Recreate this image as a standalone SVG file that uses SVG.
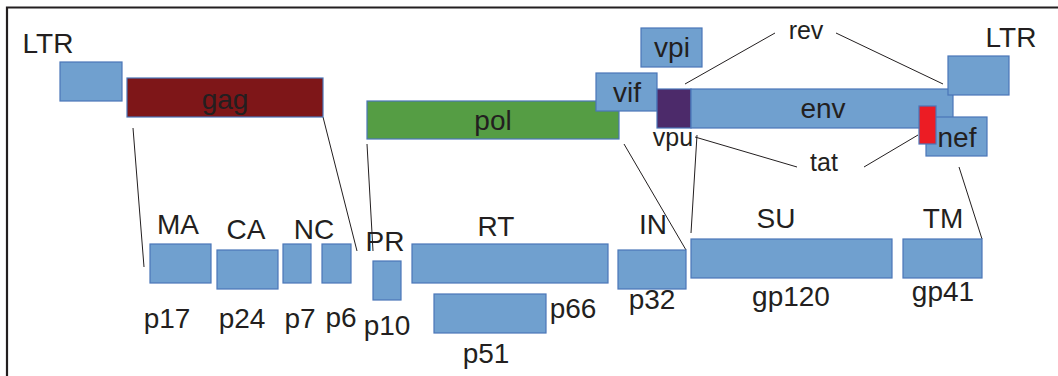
<svg xmlns="http://www.w3.org/2000/svg" width="1058" height="376" viewBox="0 0 1058 376">
<style>
text{font-family:"Liberation Sans",Arial,sans-serif;font-size:28px;fill:#231f20;text-anchor:middle}
.s{font-size:25px}
.b{fill:#70a0cf;stroke:#4a76b8;stroke-width:1.2}
.gag{fill:#7e1618;stroke:#4a76b8;stroke-width:1.2}
.pol{fill:#559d44;stroke:#4a76b8;stroke-width:1.2}
.vpu{fill:#4c2a6a;stroke:#4a76b8;stroke-width:1.2}
.tat{fill:#ec1c24;stroke:#4a76b8;stroke-width:1.2}
.c line{stroke:#231f20;stroke-width:1}
</style>
<rect width="1058" height="376" fill="#fff"/>
<path d="M7,376 V7.5 H1058" fill="none" stroke="#231f20" stroke-width="2.2"/>
<g class="c" id="connectors">
<line x1="133" y1="128" x2="144" y2="267"/>
<line x1="323" y1="117" x2="357" y2="251"/>
<line x1="367" y1="144" x2="373" y2="251"/>
<line x1="624" y1="144" x2="686" y2="250"/>
<line x1="775" y1="33" x2="685" y2="84"/>
<line x1="836" y1="33" x2="943" y2="84"/>
<line x1="695" y1="137" x2="797" y2="167"/>
<line x1="864" y1="167" x2="918" y2="135"/>
<line x1="697" y1="135" x2="691" y2="233"/>
<line x1="959" y1="167" x2="982" y2="239"/>
</g>
<g id="ltr-left"><text x="48" y="53">LTR</text><rect class="b" x="60" y="62" width="62" height="39"/></g>
<g id="gag"><rect class="gag" x="127" y="78" width="196" height="39"/><text x="225" y="109">gag</text></g>
<g id="pol"><rect class="pol" x="367" y="101" width="252" height="38"/><text x="493" y="130">pol</text></g>
<g id="vif"><rect class="b" x="596" y="73" width="61" height="38"/><text x="627" y="102">vif</text></g>
<g id="vpi"><rect class="b" x="641" y="28" width="61" height="39"/><text x="672" y="57">vpi</text></g>
<g id="vpu"><rect class="vpu" x="657" y="89" width="34" height="39"/><text class="s" x="673" y="146">vpu</text></g>
<g id="env"><rect class="b" x="691" y="89" width="262" height="39"/><text x="823" y="118">env</text></g>
<g id="ltr-right"><rect class="b" x="948" y="56" width="61" height="39"/><text x="1011" y="47">LTR</text></g>
<g id="nef"><rect class="b" x="926" y="117" width="61" height="39"/><text x="957" y="147">nef</text></g>
<g id="tat"><rect class="tat" x="919" y="106" width="17" height="38"/><text class="s" x="824" y="171">tat</text></g>
<g id="rev"><text class="s" x="806" y="39">rev</text></g>
<g id="ma"><text x="178" y="234">MA</text><rect class="b" x="150" y="244" width="61" height="39"/><text x="167" y="328">p17</text></g>
<g id="ca"><text x="246" y="239">CA</text><rect class="b" x="217" y="250" width="61" height="39"/><text x="242" y="328">p24</text></g>
<g id="nc"><text x="314" y="239">NC</text><rect class="b" x="283" y="244" width="28" height="39"/><text x="300" y="328">p7</text></g>
<g id="p6"><rect class="b" x="322" y="244" width="29" height="39"/><text x="341" y="327">p6</text></g>
<g id="pr"><text x="385" y="251">PR</text><rect class="b" x="373" y="261" width="28" height="39"/><text x="387" y="335">p10</text></g>
<g id="rt"><text x="496" y="236">RT</text><rect class="b" x="412" y="244" width="196" height="39"/><text x="573" y="318">p66</text></g>
<g id="p51"><rect class="b" x="434" y="294" width="112" height="39"/><text x="486" y="363">p51</text></g>
<g id="in"><text x="653" y="234">IN</text><rect class="b" x="618" y="250" width="68" height="39"/><text x="652" y="309">p32</text></g>
<g id="su"><text x="776" y="228">SU</text><rect class="b" x="691" y="239" width="201" height="39"/><text x="791" y="306">gp120</text></g>
<g id="tm"><text x="943" y="228">TM</text><rect class="b" x="903" y="239" width="79" height="39"/><text x="943" y="301">gp41</text></g>
</svg>
